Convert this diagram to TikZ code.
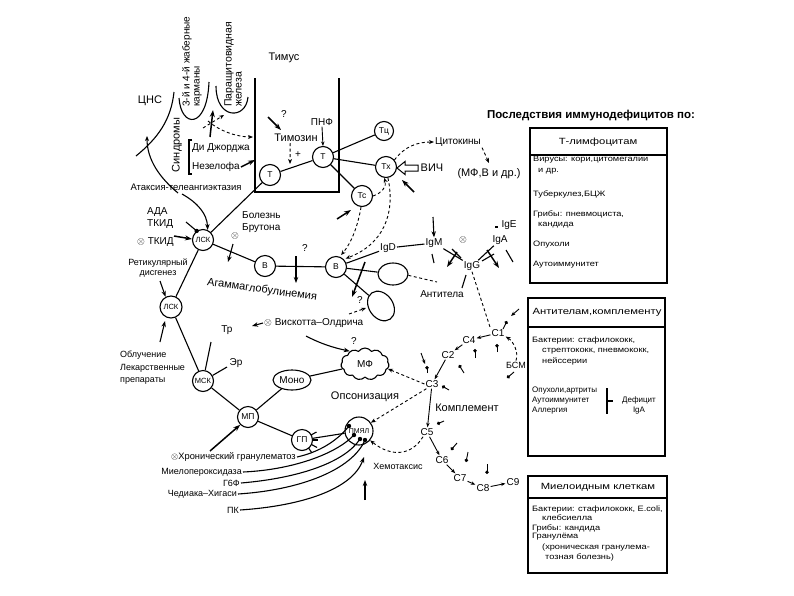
\documentclass[tikz,border=0pt]{standalone}
\usepackage{fontspec}
\setmainfont{Liberation Sans}
\newfontfamily\widef[FakeStretch=1.18]{Liberation Sans}
\newfontfamily\wideh[FakeStretch=1.25]{Liberation Sans}
\usetikzlibrary{arrows.meta,shapes.geometric,shapes.symbols,calc}
\begin{document}
\begin{tikzpicture}[x=1pt,y=-1pt,
  every node/.style={inner sep=1pt},
  cell/.style={circle,draw,line width=1.1pt,minimum size=21pt,inner sep=0pt,font=\fontsize{8.5}{10}\selectfont},
  lbig/.style={font=\fontsize{11}{13}\selectfont},
  lmed/.style={font=\fontsize{10}{12}\selectfont},
  lsm/.style={font=\fontsize{9}{10.5}\selectfont},
  ln/.style={line width=1.1pt},
  arr/.style={line width=1.1pt,-{Stealth[length=6pt,width=4.5pt]}},
  sarr/.style={line width=0.9pt,-{Stealth[length=4.5pt,width=3.5pt]}},
  tarr/.style={line width=1.5pt,-{Stealth[length=7pt,width=5pt]}},
  dsh/.style={line width=0.9pt,dash pattern=on 3pt off 2.5pt},
  darr/.style={dsh,-{Stealth[length=5pt,width=4pt]}},
  pin/.style={line width=0.9pt,-{Circle[length=3.5pt]}},
  bt/.style={anchor=west,font=\widef\fontsize{7.8}{9.5}\selectfont,inner sep=0pt},
  bn/.style={anchor=west,font=\fontsize{8}{9.5}\selectfont,inner sep=0pt},
  bh/.style={font=\wideh\fontsize{9}{11}\selectfont}
]
\useasboundingbox (0,0) rectangle (794,595);
\fill[white] (0,0) rectangle (794,595);

% ---------- top left: CNS, pouches, thymus ----------
\node[lbig] (cns) at (150,101) {ЦНС};
\node[font=\fontsize{10}{10}\selectfont,rotate=90,anchor=west,align=left] (pouch) at (192,108) {3-й и 4-й жаберные\\карманы};
\node[font=\fontsize{10.5}{10}\selectfont,rotate=90,anchor=west,align=left] (para) at (233,108) {Паращитовидная\\железа};
\node[lbig] (thym) at (284,58) {Тимус};
\node[lbig,rotate=90] (synd) at (177,145) {Синдромы};
\node[lmed,anchor=west] (dig) at (191,148) {Ди Джорджа};
\node[lmed,anchor=west] (nez) at (191,167) {Незелофа};

\draw[ln] (136,156) .. controls (158,138) and (171,120) .. (174,92);
\draw[ln,-{Stealth[length=5pt,width=4pt]}] (178,193) .. controls (160,178) and (147,160) .. (147,136);
\draw[ln] (179,98) .. controls (181,128) and (207,130) .. (209,82);
\draw[ln] (216,86) .. controls (216,120) and (246,120) .. (248,97);
\draw[ln] (255,78) -- (255,192) -- (339,192) -- (339,78);
\draw[ln] (192,140) -- (189,140) -- (189,174) -- (192,174);

\coordinate (pa1) at (210,137); \coordinate (pa2) at (213,110);
\draw[tarr] (pa1) -- (pa2);
\coordinate (pd1) at (208,121); \coordinate (pd2) at (253,137);
\draw[darr] (pd1) .. controls (222,133) and (240,137) .. (pd2);
\coordinate (pd3) at (203,128); \coordinate (pd4) at (224,115);
\draw[darr] (pd3) -- (pd4);
\coordinate (nzt) at (255,160);
\draw[tarr] (nez.east) -- (nzt);

% ---------- T cells ----------
\node[cell] (Tl) at (270,175) {Т};
\node[cell] (Tm) at (323,157) {Т};
\node[cell,minimum size=19pt] (Tq) at (384,131) {Тц};
\node[cell] (Tx) at (386,167) {Тх};
\node[cell] (Ts) at (362,196) {Тс};
\node[lmed] (pnf) at (322,122) {ПНФ};
\node[lmed] (q1) at (284,114) {?};
\node[lbig] (tim) at (296,138) {Тимозин};
\node[lmed] (plus) at (298,155) {+};
\node[lmed] (cyt) at (458,142) {Цитокины};
\node[lbig] (mfb) at (489,174) {(МФ,В и др.)};
\node[lbig] (vich) at (432,168) {ВИЧ};

\draw[ln] (Tl) -- (Tm);
\draw[ln] (Tm) -- (Tq);
\draw[ln] (Tm) -- (Tx);
\draw[ln] (Tm) -- (Ts);
\draw[sarr] (pnf.south) -- (Tm.north);
\coordinate (qa1) at (268,117); \coordinate (qa2) at (281,130);
\draw[tarr] (qa1) -- (qa2);
\coordinate (tpl) at (290,164);
\draw[darr] (tim.south west) ++(17,0) -- (tpl);
\draw[darr] (Tx.40) .. controls (405,146) and (418,142) .. (cyt.west);
\coordinate (cyt2) at (489,163);
\draw[darr] (cyt.south east) -- (cyt2);
\draw[line width=1pt] (418,165) -- (405,165) -- (405,161.5) -- (397,168) -- (405,174.5) -- (405,171) -- (418,171) -- cycle;
\coordinate (hx1) at (414,192); \coordinate (hx2) at (402,180);
\draw[tarr] (hx1) -- (hx2);
\coordinate (hs1) at (337,219); \coordinate (hs2) at (351,210);
\draw[tarr] (hs1) -- (hs2);
\draw[darr] (Ts.east) .. controls (382,193) and (387,186) .. (Tx.-100);

% ---------- lymphoid stem ----------
\node[font=\fontsize{9.5}{11}\selectfont] (atax) at (186,187) {Атаксия-телеангиэктазия};
\node[lmed,align=left,anchor=west] (ada) at (146,218) {АДА\\ТКИД};
\node[lmed,anchor=west] (tkid) at (136,242) {$\otimes$ ТКИД};
\node[lsm,align=center] (retic) at (158,268) {Ретикулярный\\дисгенез};
\node[cell,font=\fontsize{7.5}{9}\selectfont] (L1) at (203,240) {ЛСК};
\node[cell,font=\fontsize{7.5}{9}\selectfont,minimum size=22pt] (L2) at (171,307) {ЛСК};
\node[lmed,align=left,anchor=west] (brut) at (241,222) {Болезнь\\Брутона};
\node[lmed] (ox1) at (235,236) {$\otimes$};
\node[cell] (B1) at (265,266) {В};
\node[cell] (B2) at (336,267) {В};
\node[lbig,rotate=-8] (agam) at (262,290) {Агаммаглобулинемия};
\node[lmed] (q2) at (305,248) {?};

\draw[arr] (182,194) .. controls (198,203) and (207,214) .. (L1.65);
\draw[ln] (186,222) -- (L1.125);
\fill (L1.125) circle (2.2pt);
\coordinate (tk1) at (174,236);
\draw[tarr] (tk1) -- (L1.175);
\coordinate (rt1) at (160,281);
\draw[arr] (rt1) -- (L2.118);
\draw[ln] (L1) -- (Tl);
\draw[ln] (L1) -- (L2);
\draw[ln] (L1) -- (B1);
\draw[ln] (B1) -- (B2);
\coordinate (ox1a) at (233,244); \coordinate (ox1b) at (228,262);
\draw[arr] (ox1a) -- (ox1b);
\coordinate (ag1) at (296,256); \coordinate (ag2) at (296,283);
\draw[arr] (ag1) -- (ag2);
\draw[darr,shorten >=2pt] (Tx.-80) .. controls (396,215) and (382,245) .. (B2.45);
\draw[darr,shorten >=2pt] (Ts.-95) .. controls (358,225) and (352,242) .. (B2.70);

% ---------- immunoglobulins ----------
\node[lmed] (igd) at (388,248) {IgD};
\node[lmed] (igm) at (434,243) {IgM};
\node[lmed] (igg) at (472,266) {IgG};
\node[lmed] (iga) at (500,240) {IgA};
\node[lmed] (ige) at (509,225) {IgE};
\node[lmed] (ox2) at (463,240) {$\otimes$};
\node[ellipse,draw,ln,minimum width=30pt,minimum height=22pt] (e1) at (393,274) {};
\node[ellipse,draw,ln,minimum width=32pt,minimum height=24pt,rotate=-55] (e2) at (381,306) {};
\node[lmed] (anti) at (442,294) {Антитела};
\node[lmed] (q3) at (360,300) {?};

\draw[ln] (B2) -- (igd);
\draw[ln] (igd) -- (igm);
\draw[ln] (igm) -- (igg);
\draw[ln] (igg) -- (iga);
\draw[ln] (B2) -- (e1);
\draw[ln] (B2) -- (e2);
\coordinate (bx1) at (365,262); \coordinate (bx2) at (352,297);
\draw[tarr] (bx1) -- (bx2);
\coordinate (e1d) at (437,282);
\draw[dsh] (e1.-5) -- (e1d);
\coordinate (q3a) at (349,314); \coordinate (q3b) at (366,308);
\draw[darr] (q3a) -- (q3b);
\coordinate (im1) at (433,217);
\draw[arr] (im1) -- (igm.north);
\coordinate (im2) at (432,254); \coordinate (im3) at (434,263);
\draw[ln] (im2) -- (im3);
\coordinate (mg1) at (457,252); \coordinate (mg2) at (447,267);
\draw[tarr] (mg1) -- (mg2);
\coordinate (mg3) at (452,249); \coordinate (mg4) at (461,258);
\draw[ln] (mg3) -- (mg4);
\coordinate (ga1) at (487,250); \coordinate (ga2) at (499,268);
\draw[tarr] (ga1) -- (ga2);
\coordinate (ga3) at (482,261); \coordinate (ga4) at (494,254);
\draw[ln] (ga3) -- (ga4);
\coordinate (ia1) at (506,250); \coordinate (ia2) at (513,262);
\draw[ln] (ia1) -- (ia2);
\coordinate (ie1) at (495,227); \coordinate (ie2) at (497.5,227);
\draw[ln] (ie1) -- (ie2);
\coordinate (ig1) at (466,275); \coordinate (ig2) at (462,288);
\draw[ln] (ig1) -- (ig2);

% ---------- complement ----------
\node[lmed] (C1) at (498,333) {C1};
\node[lmed] (C4) at (469,340) {C4};
\node[lmed] (C2) at (448,355) {C2};
\node[lmed] (C3) at (432,384) {C3};
\node[lmed] (C5) at (427,432) {C5};
\node[lmed] (C6) at (442,460) {C6};
\node[lmed] (C7) at (460,478) {C7};
\node[lmed] (C8) at (483,488) {C8};
\node[lmed] (C9) at (513,482) {C9};
\node[lsm] (bsm) at (516,365) {БСМ};
\node[lbig] (compl) at (467,408) {Комплемент};
\node[lbig] (ops) at (365,397) {Опсонизация};
\node[lsm] (hemo) at (398,466) {Хемотаксис};

\draw[dsh] (igg.south) -- (C1.north west);
\draw[sarr] (C1) -- (C4);
\draw[sarr] (C4) -- (C2);
\draw[sarr] (C2) -- (C3);
\draw[sarr] (C3) -- (C5);
\draw[sarr] (C5) -- (C6);
\draw[sarr] (C6) -- (C7);
\draw[sarr] (C7) -- (C8);
\draw[sarr] (C8) -- (C9);
\draw[darr] (bsm.north) .. controls (519,352) and (513,341) .. (C1.-25);
\coordinate (bp1) at (514,372); \coordinate (bp2) at (507,378);
\draw[pin] (bp1) -- (bp2);
\coordinate (c1a) at (519,309); \coordinate (c1b) at (511,316);
\draw[sarr] (c1a) -- (c1b);
\coordinate (c1c) at (503,329); \coordinate (c1d) at (507,321);
\draw[pin] (c1c) -- (c1d);
\coordinate (p1a) at (497,352); \coordinate (p1b) at (497,344);
\draw[pin] (p1a) -- (p1b);
\coordinate (p2a) at (475,358); \coordinate (p2b) at (475,349);
\draw[pin] (p2a) -- (p2b);
\coordinate (p3a) at (464,373); \coordinate (p3b) at (459,365);
\draw[pin] (p3a) -- (p3b);
\coordinate (p4a) at (449,390); \coordinate (p4b) at (442,386);
\draw[pin] (p4a) -- (p4b);
\coordinate (p5a) at (421,353); \coordinate (p5b) at (425,364);
\draw[sarr] (p5a) -- (p5b);
\coordinate (p6a) at (427,373); \coordinate (p6b) at (427,366);
\draw[pin] (p6a) -- (p6b);
\coordinate (p7a) at (444,421); \coordinate (p7b) at (437,424);
\draw[pin] (p7a) -- (p7b);
\coordinate (p8a) at (457,443); \coordinate (p8b) at (451,450);
\draw[pin] (p8a) -- (p8b);
\coordinate (p9a) at (468,452); \coordinate (p9b) at (466,462);
\draw[pin] (p9a) -- (p9b);
\coordinate (p10a) at (487,464); \coordinate (p10b) at (487,474);
\draw[pin] (p10a) -- (p10b);

% ---------- myeloid line ----------
\node[lmed] (tr) at (227,330) {Тр};
\node[lmed] (er) at (236,363) {Эр};
\node[font=\fontsize{9}{12.5}\selectfont,align=left,anchor=west] (irr) at (119,368) {Облучение\\Лекарственные\\препараты};
\node[cell,font=\fontsize{7.5}{9}\selectfont] (msk) at (203,381) {МСК};
\node[cell] (mp) at (248,417) {МП};
\node[cell] (gp) at (302,440) {ГП};
\node[cell,minimum size=28pt,font=\fontsize{7}{8}\selectfont] (pm) at (359,431) {ПМЯЛ};
\node[ellipse,draw,ln,minimum width=38pt,minimum height=20pt,inner sep=0pt,lmed] (mono) at (292,380) {Моно};
\node[cloud,draw,ln,cloud puffs=11,cloud puff arc=110,aspect=1.5,minimum width=48pt,minimum height=32pt,inner sep=0pt,lmed] (mf) at (365,364) {МФ};
\node[lmed,anchor=west] (wis) at (263,323) {$\otimes$ Вискотта–Олдрича};
\node[lmed] (q4) at (354,341) {?};
\node[font=\fontsize{9.3}{11}\selectfont,anchor=west] (chr) at (170,457) {$\otimes$Хронический гранулематоз};
\node[lsm,anchor=east] (mpo) at (243,472) {Миелопероксидаза};
\node[lsm,anchor=east] (g6f) at (241,483) {Г6Ф};
\node[lsm,anchor=east] (ched) at (238,494) {Чедиака–Хигаси};
\node[lsm,anchor=east] (pk) at (240,510) {ПК};

\coordinate (ir1) at (160,342); \coordinate (ir2) at (165,321);
\draw[arr] (ir1) -- (ir2);
\draw[ln] (L2) -- (msk);
\coordinate (trc) at (211,342); \coordinate (erc) at (227,367);
\draw[ln] (msk) -- (trc);
\draw[ln] (msk) -- (erc);
\draw[ln] (msk) -- (mp);
\draw[ln] (mp) -- (mono);
\draw[ln] (mp) -- (gp);
\draw[ln] (gp) -- (pm);
\draw[ln] (mono) -- (mf);
\coordinate (cg1) at (210,451);
\draw[tarr] (cg1) -- (mp.225);
\foreach \a/\b in {{311,435}/{316.5,432},{312.5,440}/{318,440},{311.5,444.5}/{317,447.5},{308.5,448}/{312,453}}{
  \draw[ln] (\a) -- (\b);
}
\coordinate (ws1) at (252,326);
\draw[arr] (wis.west) -- (ws1);
\coordinate (ws2) at (306,336);
\draw[arr] (ws2) .. controls (325,346) and (340,349) .. (mf.140);
\draw[darr] (C3.west) -- (mf.-12);
\draw[darr] (C3.220) -- (pm.35);
\draw[darr] (C5.230) .. controls (412,455) and (392,458) .. (pm.-40);

\coordinate (d1) at (349,426); \coordinate (d2) at (354,435);
\coordinate (d3) at (360,439); \coordinate (d4) at (365,440);
\draw[ln] (chr.east) .. controls (320,452) and (338,440) .. (d1);
\draw[ln] (mpo.east) .. controls (290,470) and (335,455) .. (d2);
\draw[ln] (g6f.east) .. controls (300,478) and (345,462) .. (d3);
\draw[ln] (ched.east) .. controls (300,490) and (352,470) .. (d4);
\foreach \p in {d1,d2,d3,d4} \fill (\p) circle (2.2pt);
\coordinate (pkt) at (364,457);
\draw[arr] (pk.east) .. controls (300,506) and (352,490) .. (pkt);
\coordinate (va1) at (365,500); \coordinate (va2) at (365,480);
\draw[arr] (va1) -- (va2);

% ---------- right panel ----------
\node[font=\bfseries\fontsize{11.5}{13}\selectfont] (title) at (591,116) {Последствия иммунодефицитов по:};

\draw[ln] (530,128) rectangle (667,283);
\draw[ln] (530,155) -- (667,155);
\node[bh] (h1) at (598,142) {Т-лимфоцитам};
\node[bt] (b1a) at (533,160) {Вирусы: кори,цитомегалии};
\node[bt] (b1b) at (538,171) {и др.};
\node[bt] (b1c) at (533,194) {Туберкулез,БЦЖ};
\node[bt] (b1d) at (533,214) {Грибы: пневмоциста,};
\node[bt] (b1e) at (538,225) {кандида};
\node[bt] (b1f) at (533,245) {Опухоли};
\node[bt] (b1g) at (533,265) {Аутоиммунитет};

\draw[ln] (528,298) rectangle (665,456);
\draw[ln] (528,327) -- (665,327);
\node[bh] (h2) at (597,312) {Антителам,комплементу};
\node[bt] (b2a) at (532,340) {Бактерии: стафилококк,};
\node[bt] (b2b) at (542,351) {стрептококк, пневмококк,};
\node[bt] (b2c) at (542,361) {нейссерии};
\node[bn] (b2d) at (532,391) {Опухоли,артриты};
\node[bn] (b2e) at (532,401) {Аутоиммунитет};
\node[bn] (b2f) at (532,411) {Аллергия};
\draw[ln] (607,388) -- (607,414);
\draw[ln] (607,401) -- (613,401);
\node[font=\fontsize{8}{10}\selectfont,align=center] (def) at (639,405) {Дефицит\\IgA};

\draw[ln] (528,476) rectangle (667,573);
\draw[ln] (528,498) -- (667,498);
\node[bh] (h3) at (598,487) {Миелоидным клеткам};
\node[bt] (b3a) at (532,509) {Бактерии: стафилококк, E.coli,};
\node[bt] (b3b) at (542,518) {клебсиелла};
\node[bt] (b3c) at (532,528) {Грибы: кандида};
\node[bt] (b3d) at (532,537) {Гранулёма};
\node[bt] (b3e) at (542,547) {(хроническая гранулема-};
\node[bt] (b3f) at (545,557) {тозная болезнь)};
\end{tikzpicture}
\end{document}
